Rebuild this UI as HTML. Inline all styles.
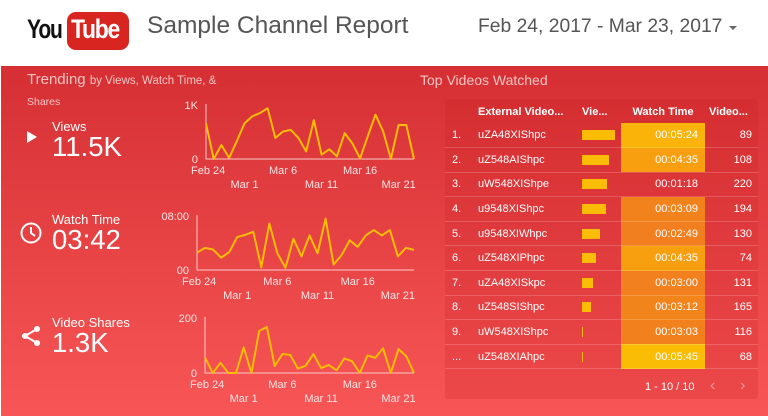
<!DOCTYPE html>
<html><head><meta charset="utf-8"><style>
*{margin:0;padding:0;box-sizing:border-box}
body{width:768px;height:420px;overflow:hidden;background:#fff;font-family:"Liberation Sans",sans-serif;position:relative}
.abs{position:absolute;white-space:nowrap}
#red{position:absolute;left:1px;top:66px;width:767px;height:350px;background:linear-gradient(#d52f33,#f85656)}
.lbl{color:#fff;font-size:13px}
.big{color:#fff;font-size:27.5px}
#panel{position:absolute;left:445px;top:99px;width:313px;height:300px;background:rgba(200,30,35,0.22);border-radius:3px}
table{position:absolute;left:445px;top:101px;width:313px;border-collapse:collapse;font-size:11px;color:#fff}
td,th{height:24.6px;padding:0}
tbody tr{border-bottom:1px solid rgba(255,255,255,0.18)}
th{font-weight:bold;text-align:left;height:22px}
</style></head><body>
<div>
  <div class="abs" style="left:27px;top:12px;width:104px;height:38px">
    <span class="abs" style="left:0;top:2px;font-size:27px;font-weight:bold;letter-spacing:-1.5px;color:#111;transform:scaleX(0.78);transform-origin:left">You</span>
    <div class="abs" style="left:40px;top:0;width:62px;height:38px;background:#d8251f;border-radius:9px"></div>
    <span class="abs" style="left:44px;top:2px;font-size:27px;font-weight:bold;letter-spacing:-1.5px;color:#fff;transform:scaleX(0.85);transform-origin:left">Tube</span>
  </div>
  <div class="abs" style="left:147px;top:12px;font-size:24.5px;color:#555">Sample Channel Report</div>
  <div class="abs" style="left:478px;top:16px;font-size:19.3px;color:#555">Feb 24, 2017 - Mar 23, 2017</div>
  <div class="abs" style="left:729px;top:26px;width:0;height:0;border-left:4px solid transparent;border-right:4px solid transparent;border-top:4px solid #666"></div>
</div>
<div id="red"></div>
<div class="abs" style="left:27px;top:71px;color:#f6c3c3;font-size:15px">Trending <span style="font-size:11.5px">by Views, Watch Time, &amp;</span></div>
<div class="abs" style="left:27px;top:96px;color:#f6c3c3;font-size:10.5px">Shares</div>
<div class="abs" style="left:420px;top:72px;color:#f6c3c3;font-size:14px">Top Videos Watched</div>

<div class="abs" style="left:27px;top:131px;width:0;height:0;border-top:6px solid transparent;border-bottom:6px solid transparent;border-left:10px solid #fff"></div>
<div class="abs lbl" style="left:52px;top:119px">Views</div>
<div class="abs big" style="left:52px;top:131px">11.5K</div>
<svg class="abs" style="left:19px;top:221px" width="24" height="24"><circle cx="12" cy="12" r="9.5" fill="none" stroke="#fff" stroke-width="2"/><path d="M12 6v6l4 3" fill="none" stroke="#fff" stroke-width="2"/></svg>
<div class="abs lbl" style="left:52px;top:212px">Watch Time</div>
<div class="abs big" style="left:52px;top:224px">03:42</div>
<svg class="abs" style="left:19px;top:324px" width="24" height="24"><path d="M18 5L6 12L18 19" fill="none" stroke="#fff" stroke-width="2"/><circle cx="18" cy="5" r="3" fill="#fff"/><circle cx="6" cy="12" r="3" fill="#fff"/><circle cx="18" cy="19" r="3" fill="#fff"/></svg>
<div class="abs lbl" style="left:52px;top:315px">Video Shares</div>
<div class="abs big" style="left:52px;top:327px">1.3K</div>

<svg id="charts" class="abs" style="left:0;top:0" width="768" height="420"></svg>

<div id="panel"></div>
<table>
<thead><tr>
<th style="width:33px"></th>
<th style="width:104px">External Video...</th>
<th style="width:39px">Vie...</th>
<th style="width:84px;text-align:center">Watch Time</th>
<th style="padding-left:4px">Video...</th>
</tr></thead>
<tbody id="tb"></tbody></table>
<div class="abs" style="left:645px;top:381px;color:#fff;font-size:11px">1 - 10 / 10</div>
<div class="abs" style="left:710px;top:377px;color:#f29a9a;font-size:16px">&#8249;</div>
<div class="abs" style="left:740px;top:377px;color:#f29a9a;font-size:16px">&#8250;</div>

<script>
const dayLabelsRow1 = ["Feb 24","Mar 6","Mar 16"];
const dayLabelsRow1Idx = [0,10,20];
const dayLabelsRow2 = ["Mar 1","Mar 11","Mar 21"];
const dayLabelsRow2Idx = [5,15,25];
const viewsValues = [660,0,260,20,330,660,790,850,940,390,510,540,390,140,720,80,180,50,480,290,10,420,820,510,0,630,630,0];
const watchSeconds = [154,197,182,110,158,293,312,341,24,413,149,19,278,120,307,149,456,48,134,264,206,307,355,307,355,120,197,178];
const sharesValues = [56,0,37,0,0,93,0,153,167,25,69,66,16,26,69,18,29,10,53,43,0,64,55,90,0,87,61,0];
const maxTicks = ["1K","08:00","200"];
const minTicks = ["0","00","0"];

const videoNames = ["uZA48XIShpc","uZ548AIShpc","uW548XIShpe","u9548XIShpc","u9548XIWhpc","uZ548XIPhpc","uZA48XISkpc","uZ548SIShpc","uW548XIShpc","uZ548XIAhpc"];
const videoViews = [1000,820,760,730,550,430,340,280,30,30];
const videoWatch = ["00:05:24","00:04:35","00:01:18","00:03:09","00:02:49","00:04:35","00:03:00","00:03:12","00:03:03","00:05:45"];
const videoCounts = [89,108,220,194,130,74,131,165,116,68];
const rowIndex = ["1.","2.","3.","4.","5.","6.","7.","8.","9.","..."];

const NS="http://www.w3.org/2000/svg";
const svg=document.getElementById('charts');
function mk(tag,attrs,name){const e=document.createElementNS(NS,tag);for(const k in attrs)e.setAttribute(k,attrs[k]);


svg.appendChild(e);return e;}
function txt(x,y,s,anchor,name){const t=mk('text',{x:x,y:y,fill:'#fbe3e3','font-size':11,'text-anchor':anchor,'font-family':'Liberation Sans, sans-serif'},name);t.textContent=s;return t;}
function chart(vals,max,x0,x1,yTop,yBot,ci,name){
  const sx=i=>x0+(x1-x0)*i/(vals.length-1);
  const sy=v=>yBot-(yBot-yTop)*v/max;
  mk('path',{d:`M${x0} ${yTop-1}V${yBot}H${x1}`,fill:'none',stroke:'#f8c8c8','stroke-width':1},name+'-axes');
  txt(x0-8,yTop+4,maxTicks[ci],'end',name+'-y-max');
  txt(x0-8,yBot+4,minTicks[ci],'end',name+'-y-min');
  dayLabelsRow1.forEach((l,k)=>txt(sx(dayLabelsRow1Idx[k])+ (k==0?-15:0),yBot+15,l,k==0?'start':'middle',name+'-x-label'));
  dayLabelsRow2.forEach((l,k)=>txt(sx(dayLabelsRow2Idx[k]),yBot+29,l,'middle',name+'-x-label'));
  mk('polyline',{points:vals.map((v,i)=>sx(i)+','+sy(v)).join(' '),fill:'none',stroke:'#fbbc05','stroke-width':2,'stroke-linejoin':'round'},name+'-line');
}
chart(viewsValues,1000,206,414,105,159,0,'views-chart');
chart(watchSeconds,480,197,414,216,270,1,'watch-time-chart');
chart(sharesValues,200,205,414,318,373,2,'shares-chart');

const tb=document.getElementById('tb');
const toSec=s=>{const p=s.split(':').map(Number);return p[0]*3600+p[1]*60+p[2];};
const secs=videoWatch.map(toSec);const mn=Math.min(...secs),mx=Math.max(...secs);
const maxV=Math.max(...videoViews);
videoNames.forEach((n,i)=>{
  const tr=document.createElement('tr');
  
  
  const f=(secs[i]-mn)/(mx-mn);
  const r=Math.round(236+(251-236)*f),g=Math.round(110+(188-110)*Math.pow(f,1.5)),b=Math.round(45*(1-f)+5*f);
  const bg=f<0.05?'transparent':`rgb(${r},${g},${b})`;
  const w=Math.max(1,33*videoViews[i]/maxV);
  tr.innerHTML=`<td style="padding-left:7px">${rowIndex[i]}</td><td>${n}</td><td><div style="width:${w.toFixed(1)}px;height:10px;background:#fbbc05"></div></td><td style="text-align:right;padding-right:7px;background:${bg}">${videoWatch[i]}</td><td style="text-align:right;padding-right:6px">${videoCounts[i]}</td>`;
  tb.appendChild(tr);
});
</script>
</body></html>
